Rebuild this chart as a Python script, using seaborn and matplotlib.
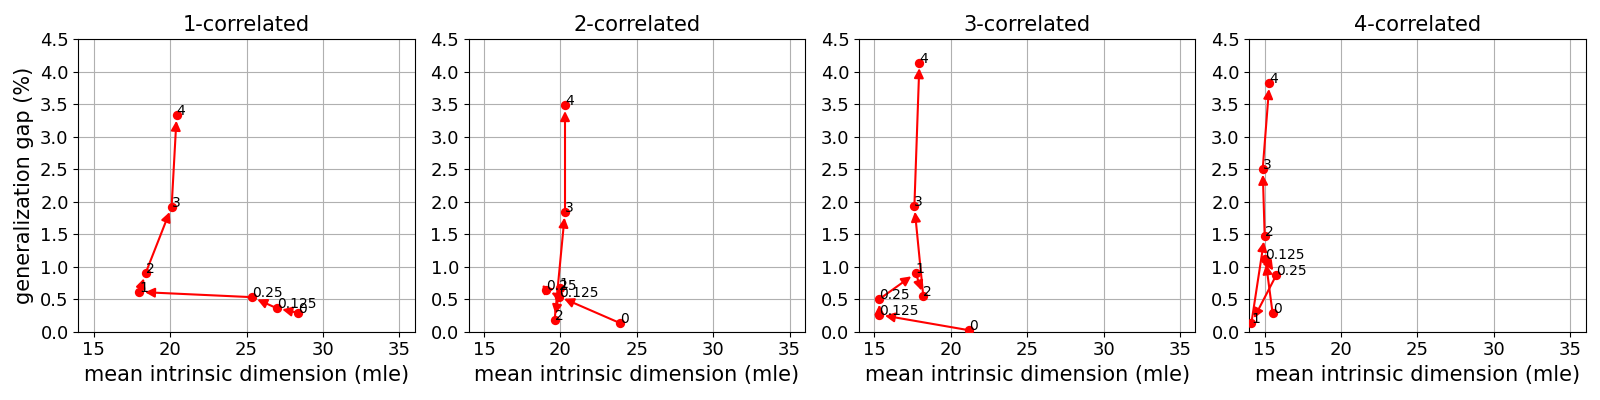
import numpy as np
import pandas as pd
import matplotlib
matplotlib.use('Agg')
import matplotlib.pyplot as plt
import seaborn as sns

# point labels (same order for every panel, arrows follow this order)
point_labels = ['0', '0.125', '0.25', '1', '2', '3', '4']

# mean intrinsic dimension (x) and generalization gap in % (y)
x_1corr = [28.35, 26.98, 25.37, 17.99, 18.40, 20.10, 20.43]
y_1corr = [0.29, 0.36, 0.53, 0.61, 0.90, 1.92, 3.33]

x_2corr = [23.91, 19.90, 19.08, 19.95, 19.62, 20.30, 20.30]
y_2corr = [0.13, 0.54, 0.64, 0.67, 0.18, 1.84, 3.48]

x_3corr = [21.22, 15.33, 15.33, 17.71, 18.20, 17.62, 17.95]
y_3corr = [0.02, 0.26, 0.50, 0.90, 0.55, 1.93, 4.14]

x_4corr = [15.52, 15.05, 15.76, 14.13, 15.00, 14.87, 15.31]
y_4corr = [0.28, 1.12, 0.87, 0.13, 1.47, 2.50, 3.82]

titles = ['1-correlated', '2-correlated', '3-correlated', '4-correlated']
panels = [(x_1corr, y_1corr), (x_2corr, y_2corr), (x_3corr, y_3corr), (x_4corr, y_4corr)]

fig, axes = plt.subplots(1, 4, figsize=(16, 4), dpi=100)
fig.subplots_adjust(left=0.049, right=0.991, bottom=0.171, top=0.902, wspace=0.161)

for i, (ax, title, (xs, ys)) in enumerate(zip(axes, titles, panels)):
    df = pd.DataFrame({'x': xs, 'y': ys, 'label': point_labels})
    sns.scatterplot(x='x', y='y', data=df, color='red', s=45, edgecolor='red', linewidth=0, zorder=3, ax=ax)
    for j in range(len(df) - 1):
        ax.annotate('', xy=(df.x[j + 1], df.y[j + 1]), xytext=(df.x[j], df.y[j]),
                    arrowprops=dict(arrowstyle='-|>', color='red', lw=1.5,
                                    mutation_scale=14, shrinkA=0, shrinkB=4),
                    zorder=2)
    for _, row in df.iterrows():
        ax.text(row.x, row.y, row.label, fontsize=10)
    ax.set_xlim(14, 36)
    ax.set_ylim(0, 4.5)
    ax.set_xticks([15, 20, 25, 30, 35])
    ax.set_yticks(np.arange(0, 4.51, 0.5))
    ax.grid(True)
    ax.set_axisbelow(True)
    ax.tick_params(labelsize=13)
    ax.set_title(title, fontsize=15)
    ax.set_xlabel('mean intrinsic dimension (mle)', fontsize=15)
    if i == 0:
        ax.set_ylabel('generalization gap (%)', fontsize=15)
    else:
        ax.set_ylabel('')

fig.savefig('out.png', dpi=100)
